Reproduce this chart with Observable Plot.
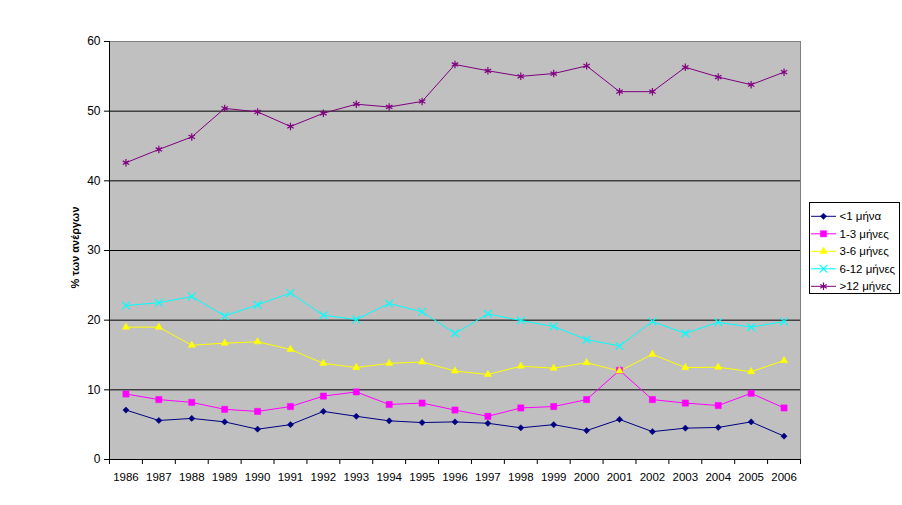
<!DOCTYPE html>
<html><head><meta charset="utf-8">
<script src="https://cdn.jsdelivr.net/npm/d3@7"></script>
<script src="https://cdn.jsdelivr.net/npm/@observablehq/plot@0.6"></script>
<style>
body{margin:0;background:#fff;}
#wrap{position:relative;width:902px;height:505px;font-family:"Liberation Sans",Arial,sans-serif;}
</style></head><body><div id="wrap"></div>
<script>
const years = [1986,1987,1988,1989,1990,1991,1992,1993,1994,1995,1996,1997,1998,1999,2000,2001,2002,2003,2004,2005,2006];
const seriesNames = ["<1 μήνα","1-3 μήνες","3-6 μήνες","6-12 μήνες",">12 μήνες"];
const lt1   = [7.1,5.6,5.9,5.4,4.35,5.0,6.9,6.2,5.55,5.3,5.4,5.2,4.55,5.0,4.15,5.75,4.0,4.5,4.6,5.4,3.35];
const m1_3  = [9.4,8.6,8.2,7.2,6.9,7.6,9.1,9.7,7.9,8.1,7.1,6.2,7.4,7.6,8.6,12.8,8.6,8.1,7.75,9.5,7.4];
const m3_6  = [19.0,19.0,16.4,16.7,16.9,15.8,13.8,13.2,13.8,14.0,12.7,12.2,13.4,13.1,13.9,12.7,15.1,13.2,13.25,12.6,14.2];
const m6_12 = [22.1,22.5,23.4,20.6,22.2,23.9,20.7,20.1,22.4,21.2,18.1,20.9,19.95,19.1,17.2,16.3,19.8,18.1,19.7,19.0,19.8];
const gt12  = [42.6,44.5,46.3,50.4,49.9,47.8,49.7,51.0,50.6,51.4,56.7,55.8,55.0,55.4,56.5,52.8,52.8,56.3,54.9,53.8,55.6];
const yTicks = [0,10,20,30,40,50,60];
const yLabel = "% των ανέργων";

const seriesValues = [lt1, m1_3, m3_6, m6_12, gt12];
// styles
const colors  = ["#000080","#FF00FF","#FFFF00","#00FFFF","#800080"];
const symbols = ["diamond2","square","triangle","times","asterisk"];
const filled  = [true,true,true,false,false];
const radii   = [2.8,3.5,2.7,3.6,3.5];

const table = [];
seriesNames.forEach((name, i) => {
  years.forEach((yr, j) => table.push({series: name, idx: i, year: yr, value: seriesValues[i][j]}));
});

const x0 = years[0] - 0.5, x1 = years[years.length-1] + 0.5;
const boundaries = years.map(d => d - 0.5).concat([x1]);

const marks = [
  Plot.frame({fill:"#C0C0C0", stroke:"#808080"}),
  Plot.ruleY(yTicks.filter(d => d > yTicks[0] && d < yTicks[yTicks.length-1]), {stroke:"black", strokeWidth:1}),
  Plot.ruleY([yTicks[0]], {stroke:"black"}),
  Plot.ruleX([x0], {stroke:"black"}),
  Plot.axisY({ticks:yTicks, tickSize:5, tickPadding:4, fontSize:12, label:null, tickFormat:d=>String(d)}),
  Plot.axisX({ticks:boundaries, tickSize:5, tickFormat:()=>"", label:null}),
  Plot.axisX({ticks:years, tickSize:0, tickPadding:13, fontSize:11.5, label:null, tickFormat:d=>String(d)}),
  Plot.text([yLabel], {frameAnchor:"left", dx:-34, dy:-3, rotate:-90, textAnchor:"middle", fontWeight:"bold", fontSize:11, fill:"black"})
];
seriesNames.forEach((name, i) => {
  const data = table.filter(d => d.idx === i);
  marks.push(Plot.line(data, {x:"year", y:"value", stroke:colors[i], strokeWidth:1}));
});
seriesNames.forEach((name, i) => {
  const data = table.filter(d => d.idx === i);
  marks.push(Plot.dot(data, {x:"year", y:"value", symbol:()=>symbols[i], r:radii[i],
    fill: filled[i] ? colors[i] : "none", stroke: colors[i], strokeWidth: filled[i] ? 0.5 : 1.2}));
});

const chart = Plot.plot({
  width:902, height:505,
  marginLeft:109, marginRight:102, marginTop:41, marginBottom:46,
  x:{type:"linear", domain:[x0, x1]},
  y:{domain:[yTicks[0], yTicks[yTicks.length-1]]},
  symbol:{type:"identity"},
  style:{fontFamily:'"Liberation Sans", Arial, sans-serif', color:"black", background:"white", overflow:"visible"},
  marks
});
const wrap = document.getElementById("wrap");
wrap.appendChild(chart);

// legend
const lw = 91, lh = 92;
const lsvg = d3.create("svg").attr("width", lw).attr("height", lh)
  .style("position","absolute").style("left","809px").style("top","202px");
lsvg.append("rect").attr("x",0.5).attr("y",0.5).attr("width",lw-1).attr("height",lh-1)
  .attr("fill","white").attr("stroke","black");
const symMap = {diamond2:d3.symbolDiamond2, square:d3.symbolSquare, triangle:d3.symbolTriangle, times:d3.symbolTimes, asterisk:d3.symbolAsterisk};
seriesNames.forEach((name, i) => {
  const cy = 14.3 + i * 17.5;
  const g = lsvg.append("g");
  g.append("line").attr("x1",2).attr("x2",27).attr("y1",cy).attr("y2",cy).attr("stroke",colors[i]).attr("stroke-width",1);
  g.append("path").attr("transform",`translate(14.5,${cy})`)
    .attr("d", d3.symbol(symMap[symbols[i]], Math.PI*radii[i]*radii[i])())
    .attr("fill", filled[i] ? colors[i] : "none").attr("stroke", colors[i]).attr("stroke-width", filled[i] ? 0.5 : 1.2);
  g.append("text").attr("x",30.5).attr("y",cy+4).attr("font-size",11.5)
    .attr("font-family",'"Liberation Sans", Arial, sans-serif').attr("fill","black").text(name);
});
wrap.appendChild(lsvg.node());
</script></body></html>
